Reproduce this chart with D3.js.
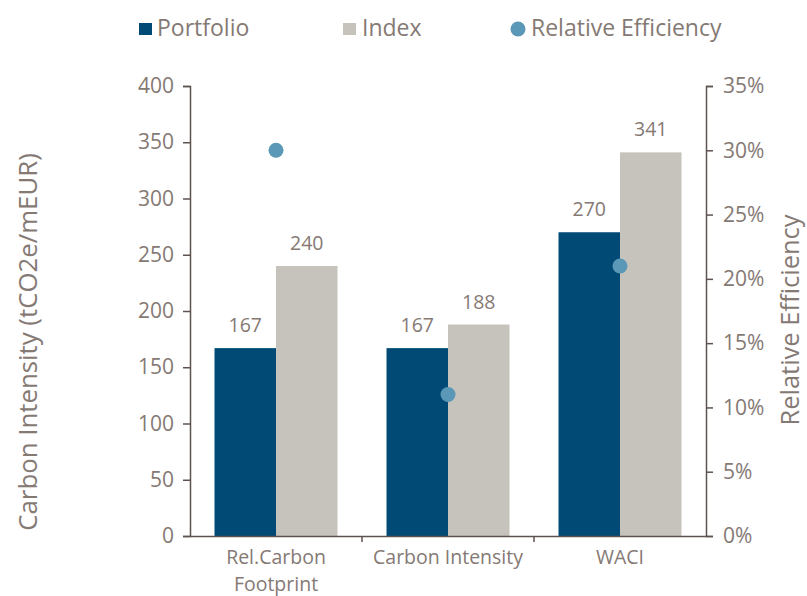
<!DOCTYPE html>
<html>
<head>
<meta charset="utf-8">
<script src="https://cdn.jsdelivr.net/npm/d3@7"></script>
<style>
  body { margin: 0; background: #fff; }
  svg { font-family: "Open Sans", sans-serif; }
</style>
</head>
<body>
<div id="vis"></div>
<script>
const FRAME_WIDTH = 807;
const FRAME_HEIGHT = 596;
const MARGINS = {left: 190, right: 101, top: 86, bottom: 60};

const categories = ["Rel.Carbon Footprint", "Carbon Intensity", "WACI"];
const portfolio = [167, 167, 270];
const index = [240, 188, 341];
const relEfficiency = [0.30, 0.11, 0.21];
const leftTicks = [0, 50, 100, 150, 200, 250, 300, 350, 400];
const rightTicks = [0, 0.05, 0.10, 0.15, 0.20, 0.25, 0.30, 0.35];

const TEXT = "#857974";
const AXIS = "#5e5250";
const C_PORT = "#004a75";
const C_INDEX = "#c6c3bc";
const C_DOT = "#5b97b6";

const VIS_WIDTH = FRAME_WIDTH - MARGINS.left - MARGINS.right;
const VIS_HEIGHT = FRAME_HEIGHT - MARGINS.top - MARGINS.bottom;

const svg = d3.select("#vis").append("svg")
    .attr("width", FRAME_WIDTH)
    .attr("height", FRAME_HEIGHT);

const g = svg.append("g")
    .attr("transform", "translate(" + MARGINS.left + "," + MARGINS.top + ")");

// scales
const X = d3.scaleBand().domain(categories).range([0, VIS_WIDTH])
    .paddingInner(0.285).paddingOuter(0.1425);
const X_INNER = d3.scaleBand().domain(["p", "i"]).range([0, X.bandwidth()]);
const Y = d3.scaleLinear().domain([0, 400]).range([VIS_HEIGHT, 0]);
const Y2 = d3.scaleLinear().domain([0, 0.35]).range([VIS_HEIGHT, 0]);

const rows = categories.map((c, i) => ({cat: c, p: portfolio[i], i: index[i], r: relEfficiency[i]}));

// bars
const groups = g.selectAll(".grp").data(rows).enter().append("g")
    .attr("transform", d => "translate(" + X(d.cat) + ",0)");

groups.append("rect")
    .attr("x", X_INNER("p")).attr("width", X_INNER.bandwidth())
    .attr("y", d => Y(d.p)).attr("height", d => VIS_HEIGHT - Y(d.p))
    .attr("fill", C_PORT);
groups.append("rect")
    .attr("x", X_INNER("i")).attr("width", X_INNER.bandwidth())
    .attr("y", d => Y(d.i)).attr("height", d => VIS_HEIGHT - Y(d.i))
    .attr("fill", C_INDEX);

// value labels
groups.append("text")
    .attr("x", X_INNER("p") + X_INNER.bandwidth() / 2)
    .attr("y", d => Y(d.p) - 16)
    .attr("text-anchor", "middle").attr("fill", TEXT).attr("font-size", "19.5px")
    .text(d => d.p);
groups.append("text")
    .attr("x", X_INNER("i") + X_INNER.bandwidth() / 2)
    .attr("y", d => Y(d.i) - 16)
    .attr("text-anchor", "middle").attr("fill", TEXT).attr("font-size", "19.5px")
    .text(d => d.i);

// relative efficiency dots
g.selectAll(".dot").data(rows).enter().append("circle")
    .attr("cx", d => X(d.cat) + X.bandwidth() / 2)
    .attr("cy", d => Y2(d.r))
    .attr("r", 7.5)
    .attr("fill", C_DOT);

// left axis
const yAxis = g.append("g")
    .call(d3.axisLeft(Y).tickValues(leftTicks).tickSize(7).tickPadding(9));
// right axis
const y2Axis = g.append("g")
    .attr("transform", "translate(" + VIS_WIDTH + ",0)")
    .call(d3.axisRight(Y2).tickValues(rightTicks).tickSize(7).tickPadding(10)
        .tickFormat(d3.format(".0%")));
// x axis with ticks between categories
const xAxis = g.append("g")
    .attr("transform", "translate(0," + VIS_HEIGHT + ")")
    .call(d3.axisBottom(X).tickSize(0).tickPadding(14));

[yAxis, y2Axis, xAxis].forEach(a => {
  a.selectAll("path.domain").attr("stroke", AXIS).attr("stroke-width", 1.5);
  a.selectAll(".tick line").attr("stroke", AXIS).attr("stroke-width", 1.5);
  a.selectAll("text").attr("fill", TEXT).attr("font-family", "Open Sans");
});
yAxis.selectAll("text").attr("font-size", "21px");
y2Axis.selectAll("text").attr("font-size", "21px");

xAxis.selectAll(".tick text").attr("font-size", "19.5px").each(function(d) {
  const t = d3.select(this);
  if (d === "Rel.Carbon Footprint") {
    t.text(null);
    t.append("tspan").attr("x", 0).attr("dy", "0.71em").text("Rel.Carbon");
    t.append("tspan").attr("x", 0).attr("dy", "1.38em").text("Footprint");
  }
});

// separator ticks on x axis
const seps = X.domain().slice(1).map(c => X(c) - X.step() * X.paddingInner() / 2);
xAxis.selectAll(".sep").data(seps).enter().append("line")
    .attr("x1", d => d).attr("x2", d => d).attr("y1", 0).attr("y2", 6)
    .attr("stroke", AXIS).attr("stroke-width", 1.5);

// axis titles
svg.append("text")
    .attr("transform", "translate(37,342) rotate(-90)")
    .attr("text-anchor", "middle").attr("fill", TEXT).attr("font-size", "25.8px")
    .text("Carbon Intensity (tCO2e/mEUR)");
svg.append("text")
    .attr("transform", "translate(799,320) rotate(-90)")
    .attr("text-anchor", "middle").attr("fill", TEXT).attr("font-size", "25.5px")
    .text("Relative Efficiency");

// legend
const legend = svg.append("g").attr("font-size", "23px").attr("fill", TEXT);
legend.append("rect").attr("x", 139).attr("y", 23).attr("width", 13).attr("height", 12).attr("fill", C_PORT);
legend.append("text").attr("x", 157).attr("y", 36).text("Portfolio");
legend.append("rect").attr("x", 343).attr("y", 23).attr("width", 13).attr("height", 12).attr("fill", C_INDEX);
legend.append("text").attr("x", 362).attr("y", 36).text("Index");
legend.append("circle").attr("cx", 518).attr("cy", 29).attr("r", 7.5).attr("fill", C_DOT);
legend.append("text").attr("x", 531).attr("y", 36).text("Relative Efficiency");
</script>
</body>
</html>
